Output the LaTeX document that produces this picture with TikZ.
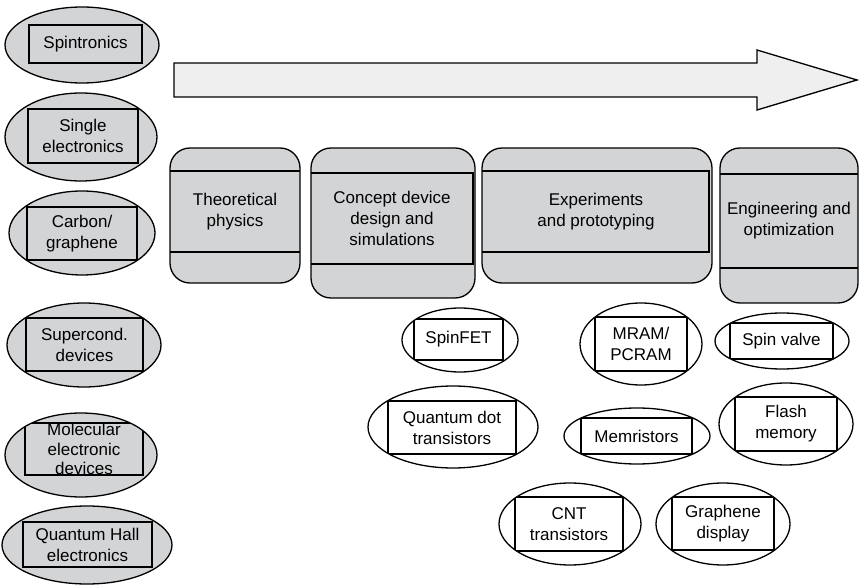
\documentclass[tikz,border=0pt]{standalone}
\usepackage{fontspec}
\setmainfont{Liberation Sans}
\usetikzlibrary{shapes.geometric,calc}
\definecolor{boxgray}{HTML}{D3D4D6}
\definecolor{arrowgray}{HTML}{EFEFEF}
\tikzset{
  ell/.style={ellipse, draw, line width=1.3pt, inner sep=0pt, outer sep=0pt},
  lbl/.style={align=center, font=\fontsize{17}{21}\selectfont, inner sep=0pt},
  lbltight/.style={align=center, font=\fontsize{17}{19.5}\selectfont, inner sep=0pt},
  stagebox/.style={draw, line width=1.3pt, rounded corners=20pt, fill=boxgray, inner sep=0pt, outer sep=0pt},
  band/.style={line width=1.3pt},
}
% name, fill, center, rx, ry, corner1, corner2, text, label style
\newcommand\ellbox[9]{%
  \node[ell, fill=#2, minimum width=2*#4, minimum height=2*#5] (#1) at (#3) {};
  \begin{scope}
    \clip (#3) ellipse [x radius=#4, y radius=#5];
    \draw[band] (#6) rectangle (#7);
  \end{scope}
  \node[#9] (#1-t) at ($(#6)!0.5!(#7)$) {#8};
}
\begin{document}
\begin{tikzpicture}[x=1pt,y=-1pt]
\useasboundingbox (0,0) rectangle (860,585);

% big arrow
\draw[line width=1.3pt, fill=arrowgray, line join=miter]
  (174,63) -- (757,63) -- (757,50) -- (857,80) -- (757,110) -- (757,97) -- (174,97) -- cycle;

% left column
\ellbox{spin}{boxgray}{82,45}{77}{38}{29,25}{142,63}{Spintronics}{lbl}
\ellbox{single}{boxgray}{81,137}{76}{44}{28,109}{138,163}{Single\\electronics}{lbl}
\ellbox{carbon}{boxgray}{82,233}{73}{42}{27,207}{137,260}{Carbon/\\graphene}{lbl}
\ellbox{superc}{boxgray}{84,345}{77}{42}{26,318}{143,371}{Supercond.\\devices}{lbl}
\ellbox{molec}{boxgray}{81,455}{76}{42}{25,423}{143,475}{Molecular\\electronic\\devices}{lbltight}
\ellbox{qhall}{boxgray}{87,545}{85}{39}{23,522}{152,567}{Quantum Hall\\electronics}{lbl}

% stage boxes
\node[stagebox, minimum width=130, minimum height=135] (theo) at (235,215.5) {};
\draw[band] (theo.west |- 0,171) -- (theo.east |- 0,171);
\draw[band] (theo.west |- 0,252) -- (theo.east |- 0,252);
\node[lbl] (theo-t) at (235,211.5) {Theoretical\\physics};

\node[stagebox, minimum width=164, minimum height=150] (conc) at (393,223) {};
\draw[band] (conc.west |- 0,173) -- (473,173) -- (473,264) -- (conc.west |- 0,264);
\node[lbl] (conc-t) at (392,218.5) {Concept device\\design and\\simulations};

\node[stagebox, minimum width=230, minimum height=135] (expt) at (597,215.5) {};
\draw[band] (expt.west |- 0,171) -- (709,171) -- (709,252) -- (expt.west |- 0,252);
\node[lbl] (expt-t) at (596,211.5) {Experiments\\and prototyping};

\node[stagebox, minimum width=138, minimum height=155] (eng) at (789,225.5) {};
\draw[band] (eng.west |- 0,174) -- (eng.east |- 0,174);
\draw[band] (eng.west |- 0,268) -- (eng.east |- 0,268);
\node[lbl] (eng-t) at (789,221) {Engineering and\\optimization};

% device examples
\ellbox{spinfet}{white}{460,340}{58}{32}{414,319}{503,360}{SpinFET}{lbl}
\ellbox{mram}{white}{641,344}{61}{41}{595,317}{687,371}{MRAM/\\PCRAM}{lbl}
\ellbox{valve}{white}{782,341}{67}{28}{730,323}{833,359}{Spin valve}{lbl}
\ellbox{qdot}{white}{453,427}{85}{41}{388,401}{516,454}{Quantum dot\\transistors}{lbl}
\ellbox{memr}{white}{637,436}{73}{28}{581,418}{692,454}{Memristors}{lbl}
\ellbox{flash}{white}{786,424}{67}{41}{735,397}{837,451}{Flash\\memory}{lbl}
\ellbox{cnt}{white}{570,524}{71}{41}{515,497}{623,551}{CNT\\transistors}{lbl}
\ellbox{graph}{white}{723,524}{67}{41}{672,497}{774,550}{Graphene\\display}{lbl}
\end{tikzpicture}
\end{document}
